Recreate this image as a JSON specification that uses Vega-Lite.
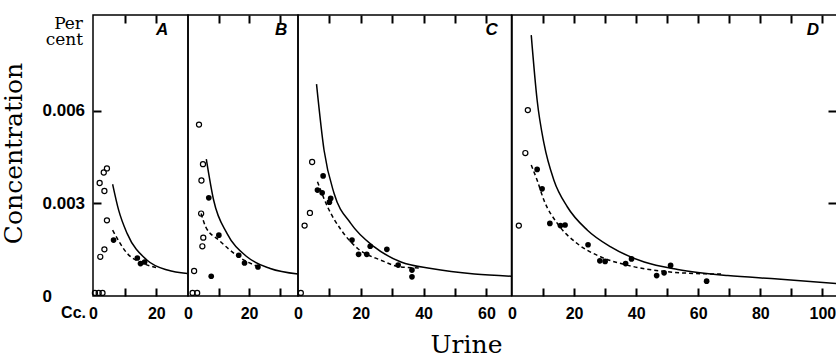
{
  "$schema": "https://vega.github.io/schema/vega-lite/v6.json",
  "background": "white",
  "padding": {"left": 0, "top": 13, "right": 0, "bottom": 0},
  "spacing": 0,
  "bounds": "flush",
  "config": {
    "view": {"stroke": "black", "strokeWidth": 1.5},
    "axis": {"domain": false, "grid": false, "tickOpacity": 1, "tickColor": "black", "tickWidth": 2, "labelColor": "black", "titleColor": "black", "zindex": 1,
      "labelFont": "Liberation Sans", "labelFontSize": 16, "labelFontWeight": "bold",
      "labelFlush": false, "labelOverlap": false},
    "line": {"color": "black", "strokeWidth": 1.5, "interpolate": "monotone"}
  },
  "datasets": {
    "curves": [
      {"p": "A", "k": "solid", "x": 6.2, "c": 0.00362}, {"p": "A", "k": "solid", "x": 8.1, "c": 0.00278}, {"p": "A", "k": "solid", "x": 10.8, "c": 0.00202}, {"p": "A", "k": "solid", "x": 17.1, "c": 0.00116}, {"p": "A", "k": "solid", "x": 23.5, "c": 0.00084}, {"p": "A", "k": "solid", "x": 29.8, "c": 0.00073},
      {"p": "A", "k": "dashed", "x": 6.2, "c": 0.00213}, {"p": "A", "k": "dashed", "x": 10.8, "c": 0.00138}, {"p": "A", "k": "dashed", "x": 16.0, "c": 0.00105}, {"p": "A", "k": "dashed", "x": 20.3, "c": 0.00091},
      {"p": "B", "k": "solid", "x": 6.0, "c": 0.00443}, {"p": "B", "k": "solid", "x": 8.4, "c": 0.0031}, {"p": "B", "k": "solid", "x": 12.8, "c": 0.00202}, {"p": "B", "k": "solid", "x": 19.3, "c": 0.00127}, {"p": "B", "k": "solid", "x": 26.9, "c": 0.00089}, {"p": "B", "k": "solid", "x": 36.0, "c": 0.00071},
      {"p": "B", "k": "dashed", "x": 4.3, "c": 0.00267}, {"p": "B", "k": "dashed", "x": 5.8, "c": 0.00224}, {"p": "B", "k": "dashed", "x": 10.1, "c": 0.00181}, {"p": "B", "k": "dashed", "x": 16.6, "c": 0.00127}, {"p": "B", "k": "dashed", "x": 23.1, "c": 0.00094},
      {"p": "C", "k": "solid", "x": 5.9, "c": 0.00686}, {"p": "C", "k": "solid", "x": 8.3, "c": 0.00472}, {"p": "C", "k": "solid", "x": 11.5, "c": 0.00332}, {"p": "C", "k": "solid", "x": 16.8, "c": 0.00235}, {"p": "C", "k": "solid", "x": 24.3, "c": 0.00159}, {"p": "C", "k": "solid", "x": 32.8, "c": 0.0011}, {"p": "C", "k": "solid", "x": 42.4, "c": 0.00089}, {"p": "C", "k": "solid", "x": 56.2, "c": 0.00071}, {"p": "C", "k": "solid", "x": 68.0, "c": 0.00064},
      {"p": "C", "k": "dashed", "x": 6.2, "c": 0.0037}, {"p": "C", "k": "dashed", "x": 9.4, "c": 0.00289}, {"p": "C", "k": "dashed", "x": 13.8, "c": 0.00213}, {"p": "C", "k": "dashed", "x": 19.0, "c": 0.00154}, {"p": "C", "k": "dashed", "x": 26.4, "c": 0.00116}, {"p": "C", "k": "dashed", "x": 32.8, "c": 0.00094}, {"p": "C", "k": "dashed", "x": 38.7, "c": 0.00091},
      {"p": "D", "k": "solid", "x": 6.2, "c": 0.00845}, {"p": "D", "k": "solid", "x": 8.1, "c": 0.00634}, {"p": "D", "k": "solid", "x": 10.3, "c": 0.00494}, {"p": "D", "k": "solid", "x": 13.5, "c": 0.00375}, {"p": "D", "k": "solid", "x": 17.8, "c": 0.00289}, {"p": "D", "k": "solid", "x": 24.3, "c": 0.00213}, {"p": "D", "k": "solid", "x": 31.8, "c": 0.00159}, {"p": "D", "k": "solid", "x": 42.6, "c": 0.0011}, {"p": "D", "k": "solid", "x": 53.4, "c": 0.00086}, {"p": "D", "k": "solid", "x": 69.5, "c": 0.00066}, {"p": "D", "k": "solid", "x": 85.6, "c": 0.00055}, {"p": "D", "k": "solid", "x": 104.7, "c": 0.0004},
      {"p": "D", "k": "dashed", "x": 6.2, "c": 0.00424}, {"p": "D", "k": "dashed", "x": 8.1, "c": 0.00375}, {"p": "D", "k": "dashed", "x": 10.3, "c": 0.0031}, {"p": "D", "k": "dashed", "x": 14.6, "c": 0.00235}, {"p": "D", "k": "dashed", "x": 21.0, "c": 0.0017}, {"p": "D", "k": "dashed", "x": 28.5, "c": 0.00127}, {"p": "D", "k": "dashed", "x": 37.1, "c": 0.001}, {"p": "D", "k": "dashed", "x": 47.9, "c": 0.00081}, {"p": "D", "k": "dashed", "x": 58.6, "c": 0.00073}, {"p": "D", "k": "dashed", "x": 68.3, "c": 0.00071}
    ],
    "points": [
      {"p": "A", "t": "open", "x": 2.3, "c": 0.00127}, {"p": "A", "t": "open", "x": 3.6, "c": 0.00151}, {"p": "A", "t": "open", "x": 2.1, "c": 0.00366}, {"p": "A", "t": "open", "x": 3.6, "c": 0.0034}, {"p": "A", "t": "open", "x": 3.4, "c": 0.004}, {"p": "A", "t": "open", "x": 4.4, "c": 0.00413}, {"p": "A", "t": "open", "x": 4.4, "c": 0.00245},
      {"p": "A", "t": "open", "x": 0.6, "c": 0.0001}, {"p": "A", "t": "open", "x": 1.8, "c": 0.0001}, {"p": "A", "t": "open", "x": 3.0, "c": 0.0001},
      {"p": "A", "t": "filled", "x": 6.5, "c": 0.00181}, {"p": "A", "t": "filled", "x": 14.0, "c": 0.00123}, {"p": "A", "t": "filled", "x": 15.0, "c": 0.00105}, {"p": "A", "t": "filled", "x": 16.3, "c": 0.0011},
      {"p": "B", "t": "open", "x": 3.6, "c": 0.00555}, {"p": "B", "t": "open", "x": 4.9, "c": 0.00427}, {"p": "B", "t": "open", "x": 4.4, "c": 0.00374}, {"p": "B", "t": "open", "x": 4.3, "c": 0.00267}, {"p": "B", "t": "open", "x": 5.0, "c": 0.00189}, {"p": "B", "t": "open", "x": 4.7, "c": 0.00161}, {"p": "B", "t": "open", "x": 2.0, "c": 0.00081},
      {"p": "B", "t": "open", "x": 1.5, "c": 0.0001}, {"p": "B", "t": "open", "x": 3.0, "c": 0.0001},
      {"p": "B", "t": "filled", "x": 6.8, "c": 0.00318}, {"p": "B", "t": "filled", "x": 10.1, "c": 0.00197}, {"p": "B", "t": "filled", "x": 7.6, "c": 0.00064}, {"p": "B", "t": "filled", "x": 16.6, "c": 0.00132}, {"p": "B", "t": "filled", "x": 18.5, "c": 0.00107}, {"p": "B", "t": "filled", "x": 22.9, "c": 0.00094},
      {"p": "C", "t": "open", "x": 0.9, "c": 0.0001}, {"p": "C", "t": "open", "x": 2.1, "c": 0.00228}, {"p": "C", "t": "open", "x": 3.8, "c": 0.00269}, {"p": "C", "t": "open", "x": 4.5, "c": 0.00434},
      {"p": "C", "t": "filled", "x": 8.0, "c": 0.00389}, {"p": "C", "t": "filled", "x": 6.2, "c": 0.00343}, {"p": "C", "t": "filled", "x": 7.7, "c": 0.00334}, {"p": "C", "t": "filled", "x": 10.4, "c": 0.00316}, {"p": "C", "t": "filled", "x": 10.0, "c": 0.00304}, {"p": "C", "t": "filled", "x": 17.2, "c": 0.00181}, {"p": "C", "t": "filled", "x": 19.3, "c": 0.00135}, {"p": "C", "t": "filled", "x": 21.9, "c": 0.00135}, {"p": "C", "t": "filled", "x": 23.0, "c": 0.00161}, {"p": "C", "t": "filled", "x": 28.3, "c": 0.00151}, {"p": "C", "t": "filled", "x": 31.9, "c": 0.001}, {"p": "C", "t": "filled", "x": 36.3, "c": 0.00084}, {"p": "C", "t": "filled", "x": 36.3, "c": 0.00062},
      {"p": "D", "t": "open", "x": 2.2, "c": 0.00228}, {"p": "D", "t": "open", "x": 4.3, "c": 0.00463}, {"p": "D", "t": "open", "x": 5.1, "c": 0.00602},
      {"p": "D", "t": "filled", "x": 8.1, "c": 0.0041}, {"p": "D", "t": "filled", "x": 9.7, "c": 0.00347}, {"p": "D", "t": "filled", "x": 12.2, "c": 0.00235}, {"p": "D", "t": "filled", "x": 15.6, "c": 0.00228}, {"p": "D", "t": "filled", "x": 17.1, "c": 0.0023}, {"p": "D", "t": "filled", "x": 24.5, "c": 0.00166}, {"p": "D", "t": "filled", "x": 28.3, "c": 0.00114}, {"p": "D", "t": "filled", "x": 30.0, "c": 0.00112}, {"p": "D", "t": "filled", "x": 36.6, "c": 0.00105}, {"p": "D", "t": "filled", "x": 38.5, "c": 0.0012}, {"p": "D", "t": "filled", "x": 46.6, "c": 0.00066}, {"p": "D", "t": "filled", "x": 49.0, "c": 0.00075}, {"p": "D", "t": "filled", "x": 51.1, "c": 0.00099}, {"p": "D", "t": "filled", "x": 62.7, "c": 0.00048}
    ]
  },
  "hconcat": [
    {
      "width": 95, "height": 281,
      "resolve": {"axis": {"x": "independent", "y": "independent"}},
      "layer": [
        {"data": {"name": "points"}, "transform": [{"filter": "datum.p == 'A' && datum.t == 'filled'"}],
         "mark": {"type": "circle", "color": "black", "opacity": 1, "size": 32},
         "encoding": {
           "x": {"field": "x", "type": "quantitative", "scale": {"domain": [0, 30], "nice": false},
             "axis": {"orient": "bottom", "values": [0, 20], "ticks": false, "labelPadding": 9, "labelBaseline": "top", "title": null}},
           "y": {"field": "c", "type": "quantitative", "scale": {"domain": [0, 0.0091], "nice": false, "zero": false},
             "axis": {"orient": "left", "values": [0, 0.003, 0.006], "ticks": false, "labelPadding": 51, "labelAlign": "left", "labelBaseline": "middle", "labelFontSize": 17,
               "labelExpr": "datum.value == 0 ? '0' : format(datum.value, '.3f')",
               "title": "Concentration", "titleX": -72, "titleY": 138, "titleAngle": -90, "titleAlign": "center", "titleBaseline": "alphabetic",
               "titleFont": "DejaVu Serif", "titleFontSize": 25, "titleFontWeight": "normal"}}
         }},
        {"data": {"name": "curves"}, "transform": [{"filter": "datum.p == 'A' && datum.k == 'solid'"}],
         "mark": {"type": "line"},
         "encoding": {
           "x": {"field": "x", "type": "quantitative", "axis": {"orient": "top", "values": [10, 20], "offset": -8, "tickSize": 8, "labels": false, "title": null}},
           "y": {"field": "c", "type": "quantitative", "axis": {"orient": "left", "values": [0.003, 0.006], "offset": -8, "tickSize": 8, "labels": false, "title": null}}
         }},
        {"data": {"name": "curves"}, "transform": [{"filter": "datum.p == 'A' && datum.k == 'dashed'"}],
         "mark": {"type": "line", "strokeDash": [4, 3]},
         "encoding": {
           "x": {"field": "x", "type": "quantitative", "axis": {"orient": "bottom", "values": [10, 20], "offset": -8, "tickSize": 8, "labels": false, "title": null}},
           "y": {"field": "c", "type": "quantitative", "axis": null}
         }},
        {"data": {"name": "points"}, "transform": [{"filter": "datum.p == 'A' && datum.t == 'open'"}],
         "mark": {"type": "point", "shape": "circle", "filled": false, "stroke": "black", "opacity": 1, "strokeWidth": 1.2, "size": 26},
         "encoding": {"x": {"field": "x", "type": "quantitative", "axis": null}, "y": {"field": "c", "type": "quantitative", "axis": null}}},
        {"data": {"values": [{"n": 1}]},
         "mark": {"type": "text", "text": "A", "font": "Liberation Sans, DejaVu Sans", "fontSize": 17, "fontStyle": "italic", "fontWeight": "bold", "align": "center", "baseline": "middle", "color": "black"},
         "encoding": {"x": {"datum": 21.8, "type": "quantitative", "axis": null}, "y": {"datum": 0.0086, "type": "quantitative", "axis": null}}},
        {"data": {"values": [{"n": 1}]},
         "mark": {"type": "text", "text": ["Per", "cent"], "font": "DejaVu Serif", "fontSize": 17, "lineHeight": 16, "align": "right", "baseline": "top", "dx": -10, "dy": 1, "color": "black"},
         "encoding": {"x": {"datum": 0, "type": "quantitative", "axis": null}, "y": {"datum": 0.0091, "type": "quantitative", "axis": null}}},
        {"data": {"values": [{"n": 1}]},
         "mark": {"type": "text", "text": "Cc.", "font": "Liberation Sans", "fontSize": 16, "fontWeight": "bold", "align": "right", "baseline": "top", "dx": -7, "dy": 9, "color": "black"},
         "encoding": {"x": {"datum": 0, "type": "quantitative", "axis": null}, "y": {"datum": 0, "type": "quantitative", "axis": null}}}
      ]
    },
    {
      "width": 110, "height": 281,
      "resolve": {"axis": {"x": "independent"}},
      "layer": [
        {"data": {"name": "curves"}, "transform": [{"filter": "datum.p == 'B' && datum.k == 'solid'"}],
         "mark": {"type": "line"},
         "encoding": {
           "x": {"field": "x", "type": "quantitative", "scale": {"domain": [0, 36], "nice": false},
             "axis": {"orient": "bottom", "values": [0, 20], "ticks": false, "labelPadding": 9, "labelBaseline": "top", "title": null}},
           "y": {"field": "c", "type": "quantitative", "scale": {"domain": [0, 0.0091], "nice": false, "zero": false}, "axis": null}
         }},
        {"data": {"name": "curves"}, "transform": [{"filter": "datum.p == 'B' && datum.k == 'dashed'"}],
         "mark": {"type": "line", "strokeDash": [4, 3]},
         "encoding": {
           "x": {"field": "x", "type": "quantitative", "axis": {"orient": "top", "values": [10, 20, 30], "offset": -8, "tickSize": 8, "labels": false, "title": null}},
           "y": {"field": "c", "type": "quantitative", "axis": null}
         }},
        {"data": {"name": "points"}, "transform": [{"filter": "datum.p == 'B' && datum.t == 'open'"}],
         "mark": {"type": "point", "shape": "circle", "filled": false, "stroke": "black", "opacity": 1, "strokeWidth": 1.2, "size": 26},
         "encoding": {"x": {"field": "x", "type": "quantitative", "axis": {"orient": "bottom", "values": [10, 20, 30], "offset": -8, "tickSize": 8, "labels": false, "title": null}}, "y": {"field": "c", "type": "quantitative", "axis": null}}},
        {"data": {"name": "points"}, "transform": [{"filter": "datum.p == 'B' && datum.t == 'filled'"}],
         "mark": {"type": "circle", "color": "black", "opacity": 1, "size": 32},
         "encoding": {"x": {"field": "x", "type": "quantitative", "axis": null}, "y": {"field": "c", "type": "quantitative", "axis": null}}},
        {"data": {"values": [{"n": 1}]},
         "mark": {"type": "text", "text": "B", "font": "Liberation Sans, DejaVu Sans", "fontSize": 17, "fontStyle": "italic", "fontWeight": "bold", "align": "center", "baseline": "middle", "color": "black"},
         "encoding": {"x": {"datum": 30.5, "type": "quantitative", "axis": null}, "y": {"datum": 0.0086, "type": "quantitative", "axis": null}}}
      ]
    },
    {
      "width": 213.5, "height": 281,
      "resolve": {"axis": {"x": "independent"}},
      "layer": [
        {"data": {"name": "curves"}, "transform": [{"filter": "datum.p == 'C' && datum.k == 'solid'"}],
         "mark": {"type": "line"},
         "encoding": {
           "x": {"field": "x", "type": "quantitative", "scale": {"domain": [0, 68], "nice": false},
             "axis": {"orient": "bottom", "values": [0, 20, 40, 60], "ticks": false, "labelPadding": 9, "labelBaseline": "top",
               "title": "Urine", "titleX": 168, "titleY": 56, "titleAlign": "center", "titleBaseline": "alphabetic", "titleFont": "DejaVu Serif", "titleFontSize": 25, "titleFontWeight": "normal"}},
           "y": {"field": "c", "type": "quantitative", "scale": {"domain": [0, 0.0091], "nice": false, "zero": false}, "axis": null}
         }},
        {"data": {"name": "curves"}, "transform": [{"filter": "datum.p == 'C' && datum.k == 'dashed'"}],
         "mark": {"type": "line", "strokeDash": [4, 3]},
         "encoding": {
           "x": {"field": "x", "type": "quantitative", "axis": {"orient": "top", "values": [10, 20, 30, 40, 50, 60], "offset": -8, "tickSize": 8, "labels": false, "title": null}},
           "y": {"field": "c", "type": "quantitative", "axis": null}
         }},
        {"data": {"name": "points"}, "transform": [{"filter": "datum.p == 'C' && datum.t == 'open'"}],
         "mark": {"type": "point", "shape": "circle", "filled": false, "stroke": "black", "opacity": 1, "strokeWidth": 1.2, "size": 26},
         "encoding": {"x": {"field": "x", "type": "quantitative", "axis": {"orient": "bottom", "values": [10, 20, 30, 40, 50, 60], "offset": -8, "tickSize": 8, "labels": false, "title": null}}, "y": {"field": "c", "type": "quantitative", "axis": null}}},
        {"data": {"name": "points"}, "transform": [{"filter": "datum.p == 'C' && datum.t == 'filled'"}],
         "mark": {"type": "circle", "color": "black", "opacity": 1, "size": 32},
         "encoding": {"x": {"field": "x", "type": "quantitative", "axis": null}, "y": {"field": "c", "type": "quantitative", "axis": null}}},
        {"data": {"values": [{"n": 1}]},
         "mark": {"type": "text", "text": "C", "font": "Liberation Sans, DejaVu Sans", "fontSize": 17, "fontStyle": "italic", "fontWeight": "bold", "align": "center", "baseline": "middle", "color": "black"},
         "encoding": {"x": {"datum": 61.7, "type": "quantitative", "axis": null}, "y": {"datum": 0.0086, "type": "quantitative", "axis": null}}}
      ]
    },
    {
      "width": 325, "height": 281,
      "resolve": {"axis": {"x": "independent"}},
      "layer": [
        {"data": {"name": "curves"}, "transform": [{"filter": "datum.p == 'D' && datum.k == 'solid'"}],
         "mark": {"type": "line"},
         "encoding": {
           "x": {"field": "x", "type": "quantitative", "scale": {"domain": [0, 104.7], "nice": false},
             "axis": {"orient": "bottom", "values": [0, 20, 40, 60, 80, 100], "ticks": false, "labelPadding": 9, "labelBaseline": "top", "title": null}},
           "y": {"field": "c", "type": "quantitative", "scale": {"domain": [0, 0.0091], "nice": false, "zero": false},
             "axis": {"orient": "right", "values": [0.003, 0.006], "offset": -9, "tickSize": 9, "labels": false, "title": null}}
         }},
        {"data": {"name": "curves"}, "transform": [{"filter": "datum.p == 'D' && datum.k == 'dashed'"}],
         "mark": {"type": "line", "strokeDash": [4, 3]},
         "encoding": {
           "x": {"field": "x", "type": "quantitative", "axis": {"orient": "top", "values": [10, 20, 30, 40, 50, 60, 70, 80, 90, 100], "offset": -8, "tickSize": 8, "labels": false, "title": null}},
           "y": {"field": "c", "type": "quantitative"}
         }},
        {"data": {"name": "points"}, "transform": [{"filter": "datum.p == 'D' && datum.t == 'open'"}],
         "mark": {"type": "point", "shape": "circle", "filled": false, "stroke": "black", "opacity": 1, "strokeWidth": 1.2, "size": 26},
         "encoding": {"x": {"field": "x", "type": "quantitative", "axis": {"orient": "bottom", "values": [10, 20, 30, 40, 50, 60, 70, 80, 90, 100], "offset": -8, "tickSize": 8, "labels": false, "title": null}}, "y": {"field": "c", "type": "quantitative"}}},
        {"data": {"name": "points"}, "transform": [{"filter": "datum.p == 'D' && datum.t == 'filled'"}],
         "mark": {"type": "circle", "color": "black", "opacity": 1, "size": 32},
         "encoding": {"x": {"field": "x", "type": "quantitative", "axis": null}, "y": {"field": "c", "type": "quantitative"}}},
        {"data": {"values": [{"n": 1}]},
         "mark": {"type": "text", "text": "D", "font": "Liberation Sans, DejaVu Sans", "fontSize": 17, "fontStyle": "italic", "fontWeight": "bold", "align": "center", "baseline": "middle", "color": "black"},
         "encoding": {"x": {"datum": 96.9, "type": "quantitative", "axis": null}, "y": {"datum": 0.0086, "type": "quantitative"}}}
      ]
    }
  ]
}
